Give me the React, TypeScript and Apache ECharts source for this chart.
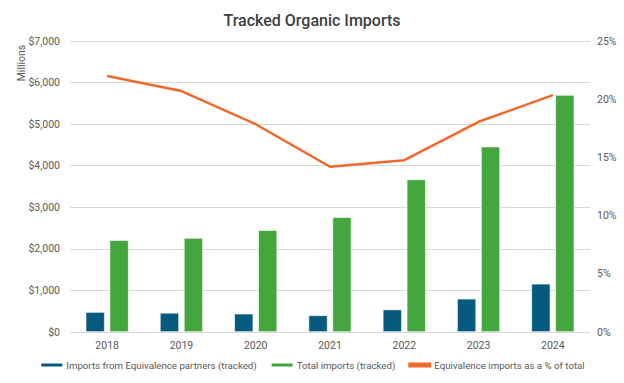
import React, { useEffect, useRef } from "react";
import * as echarts from "echarts";

const years = ["2018", "2019", "2020", "2021", "2022", "2023", "2024"];
const equivalenceImports = [480, 460, 440, 400, 540, 800, 1160];
const totalImports = [2210, 2260, 2450, 2760, 3670, 4460, 5700];
const equivalenceShare = [22.0, 20.7, 17.85, 14.2, 14.76, 18.06, 20.35];

const FONT = "Roboto, 'Liberation Sans', Arial, sans-serif";
const LABEL = "#595959";

export default function App() {
  const ref = useRef<HTMLDivElement>(null);
  useEffect(() => {
    if (!ref.current) return;
    const chart = echarts.init(ref.current, undefined, { renderer: "svg" });
    chart.setOption({
      animation: false,
      backgroundColor: "#ffffff",
      textStyle: { fontFamily: FONT },
      title: {
        text: "Tracked Organic Imports",
        left: "center",
        top: 7,
        textStyle: { fontFamily: FONT, fontSize: 16, fontWeight: 500, color: "#404040" },
      },
      graphic: [
        {
          type: "text",
          x: 21,
          y: 63,
          rotation: Math.PI / 2,
          style: { text: "Millions", fontFamily: FONT, fontSize: 10.5, fill: LABEL, align: "center", verticalAlign: "middle" },
        },
      ],
      grid: { left: 70, right: 34, top: 41, bottom: 51, containLabel: false, outerBoundsMode: "none" },
      legend: {
        bottom: 8,
        left: "center",
        itemWidth: 23,
        itemHeight: 5,
        itemGap: 13,
        textStyle: { fontFamily: FONT, fontSize: 9.7, color: LABEL, padding: [0, 0, 0, -2] },
        data: [
          { name: "Imports from Equivalence partners (tracked)", icon: "rect" },
          { name: "Total imports (tracked)", icon: "rect" },
          { name: "Equivalence imports as a % of total", icon: "rect", itemStyle: { color: "#F0692B" } },
        ],
      },
      xAxis: {
        type: "category",
        data: years,
        axisLine: { lineStyle: { color: "#D9D9D9" } },
        axisTick: { show: false },
        axisLabel: { color: LABEL, fontSize: 10.5, fontFamily: FONT, margin: 8 },
      },
      yAxis: [
        {
          type: "value",
          min: 0,
          max: 7000,
          interval: 1000,
          axisLine: { show: false },
          axisTick: { show: false },
          splitLine: { lineStyle: { color: "#D9D9D9" } },
          axisLabel: {
            color: LABEL,
            fontSize: 10.5,
            fontFamily: FONT,
            margin: 10,
            formatter: (v: number) => "$" + v.toLocaleString("en-US"),
          },
        },
        {
          type: "value",
          min: 0,
          max: 25,
          interval: 5,
          position: "right",
          axisLine: { show: false },
          axisTick: { show: false },
          splitLine: { show: false },
          axisLabel: { color: LABEL, fontSize: 10.5, fontFamily: FONT, margin: 7, formatter: "{value}%" },
        },
      ],
      series: [
        {
          name: "Imports from Equivalence partners (tracked)",
          type: "bar",
          data: equivalenceImports,
          barWidth: 19,
          barGap: "26%",
          itemStyle: { color: "#065A7E", borderColor: "#ffffff", borderWidth: 0.6 },
        },
        {
          name: "Total imports (tracked)",
          type: "bar",
          data: totalImports,
          barWidth: 19,
          itemStyle: { color: "#44A73D", borderColor: "#ffffff", borderWidth: 0.6 },
        },
        {
          name: "Equivalence imports as a % of total",
          type: "line",
          yAxisIndex: 1,
          data: equivalenceShare,
          symbol: "none",
          lineStyle: { color: "#F0692B", width: 2.5 },
          itemStyle: { color: "#F0692B" },
        },
      ],
    });
    return () => chart.dispose();
  }, []);
  return <div ref={ref} style={{ width: 624, height: 383, position: "absolute", left: 0, top: 0 }} />;
}
